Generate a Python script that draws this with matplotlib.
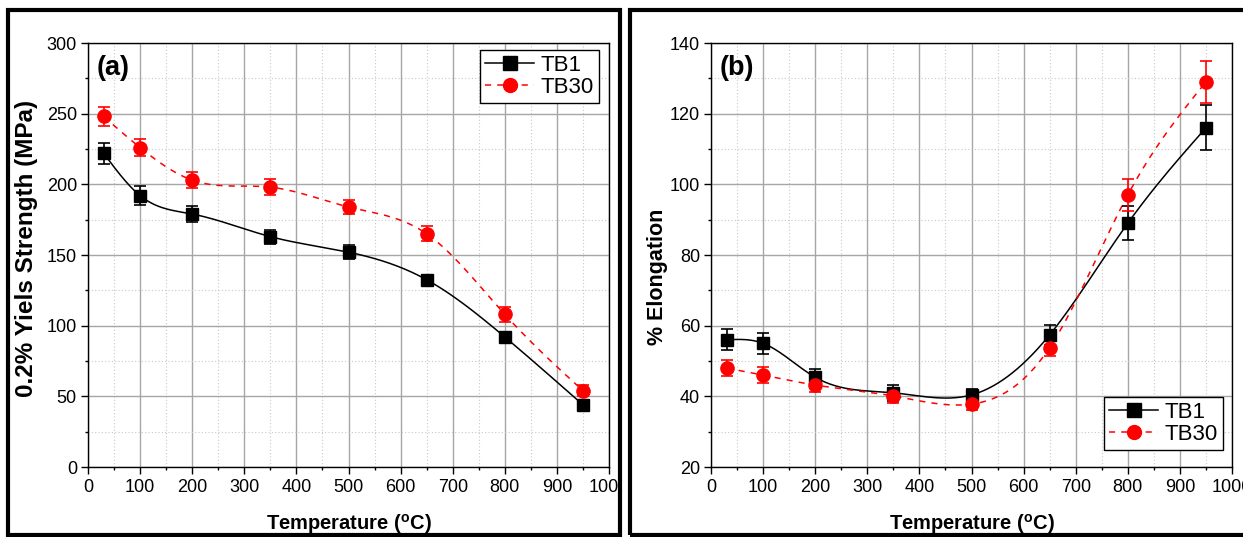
import numpy as np
import matplotlib
matplotlib.use("Agg")
import matplotlib.pyplot as plt
from matplotlib.lines import Line2D
from matplotlib.patches import Rectangle
from matplotlib.ticker import MultipleLocator

plt.rcParams["font.family"] = ["Liberation Sans", "DejaVu Sans"]
plt.rcParams["mathtext.fontset"] = "custom"
plt.rcParams["mathtext.rm"] = "Liberation Sans"
plt.rcParams["mathtext.bf"] = "Liberation Sans:bold"

# Test temperatures (deg C)
temps = [30, 100, 200, 350, 500, 650, 800, 950]

# 0.2% yield strength (MPa) with error bars
ys_tb1 = [222, 192, 179, 163, 152, 132.5, 92, 44]
ys_tb1_err = [7.5, 6.5, 6, 5, 5, 3, 3, 2]
ys_tb30 = [248, 226, 203, 198, 184, 165, 108, 54]
ys_tb30_err = [6.5, 6, 5.5, 5.5, 5, 5.4, 5.5, 4]

# Elongation (%) with error bars
el_tb1 = [56, 55, 45.4, 41, 40.4, 57.4, 89, 116]
el_tb1_err = [3, 3, 2.2, 2.3, 1.8, 2.8, 4.8, 6.4]
el_tb30 = [48, 46, 43.2, 40.1, 37.8, 53.8, 97, 129]
el_tb30_err = [2.3, 2.2, 2, 2, 1.7, 2.4, 4.5, 6]

series_names = ["TB1", "TB30"]
RED = "#ff0000"


def natural_spline(x, y, num=400):
    """Smooth connecting curve through the measured points (natural cubic spline)."""
    x = np.asarray(x, float)
    y = np.asarray(y, float)
    n = len(x)
    h = np.diff(x)
    A = np.zeros((n, n))
    b = np.zeros(n)
    A[0, 0] = A[-1, -1] = 1.0
    for i in range(1, n - 1):
        A[i, i - 1] = h[i - 1]
        A[i, i] = 2 * (h[i - 1] + h[i])
        A[i, i + 1] = h[i]
        b[i] = 6 * ((y[i + 1] - y[i]) / h[i] - (y[i] - y[i - 1]) / h[i - 1])
    M = np.linalg.solve(A, b)
    xs = np.linspace(x[0], x[-1], num)
    idx = np.clip(np.searchsorted(x, xs) - 1, 0, n - 2)
    x0, x1 = x[idx], x[idx + 1]
    y0, y1 = y[idx], y[idx + 1]
    m0, m1 = M[idx], M[idx + 1]
    hh = x1 - x0
    t1 = x1 - xs
    t0 = xs - x0
    ys = (m0 * t1 ** 3 + m1 * t0 ** 3) / (6 * hh) \
        + (y0 / hh - m0 * hh / 6) * t1 + (y1 / hh - m1 * hh / 6) * t0
    return xs, ys


def draw_series(ax, x, y, err, color, marker, ms, dashed):
    xs, ys = natural_spline(x, y)
    if dashed:
        ax.plot(xs, ys, color=color, lw=1.1, dashes=(4, 4), zorder=3)
    else:
        ax.plot(xs, ys, color=color, lw=1.1, zorder=3)
    ax.errorbar(x, y, yerr=err, fmt="none", ecolor=color, elinewidth=1.2,
                capsize=4.4, capthick=1.2, zorder=4)
    ax.plot(x, y, linestyle="none", marker=marker, ms=ms, color=color,
            markeredgecolor=color, zorder=5)


def style_axes(ax, ymin, ymax, ymaj, ymin_step):
    ax.set_xlim(0, 1000)
    ax.set_ylim(ymin, ymax)
    ax.xaxis.set_major_locator(MultipleLocator(100))
    ax.xaxis.set_minor_locator(MultipleLocator(50))
    ax.yaxis.set_major_locator(MultipleLocator(ymaj))
    ax.yaxis.set_minor_locator(MultipleLocator(ymin_step))
    ax.grid(which="major", color="#a6a6a6", lw=1.0, ls="-", zorder=0)
    ax.grid(which="minor", color="#c8c8c8", lw=0.8, ls=(0, (1, 2)), zorder=0)
    ax.set_axisbelow(True)
    ax.tick_params(which="both", direction="out", top=False, right=False,
                   width=1.0, labelsize=13)
    ax.tick_params(which="major", length=5)
    ax.tick_params(which="minor", length=2.5)
    ax.tick_params(axis="x", pad=3.5)
    ax.tick_params(axis="y", pad=3)
    for sp in ax.spines.values():
        sp.set_linewidth(1.0)
        sp.set_color("black")
    ax.set_xlabel(r"Temperature ($\mathbf{^{o}}$C)", fontsize=14.5,
                  fontweight="bold", labelpad=12)


def add_legend(ax, loc, anchor):
    handles = [
        Line2D([], [], color="black", lw=1.1, marker="s", ms=9.5),
        Line2D([], [], color=RED, lw=1.1, dashes=(4, 4), marker="o", ms=10),
    ]
    leg = ax.legend(handles, series_names, loc=loc, bbox_to_anchor=anchor,
                    borderaxespad=0, fontsize=16, handlelength=2.2,
                    handletextpad=0.3, labelspacing=0.05, borderpad=0.22,
                    fancybox=False, framealpha=1, edgecolor="black")
    leg.get_frame().set_linewidth(1.0)
    leg.set_zorder(10)


fig = plt.figure(figsize=(12.43, 5.37), dpi=100)
W, H = 1243, 537

ax1 = fig.add_axes([88 / W, 1 - 467 / H, 521 / W, 424 / H])
ax2 = fig.add_axes([711 / W, 1 - 467 / H, 521 / W, 424 / H])

# (a) yield strength
style_axes(ax1, 0, 300, 50, 25)
draw_series(ax1, temps, ys_tb1, ys_tb1_err, "black", "s", 9, False)
draw_series(ax1, temps, ys_tb30, ys_tb30_err, RED, "o", 9.5, True)
ax1.set_ylabel("0.2% Yiels Strength (MPa)", fontsize=17.5, fontweight="bold",
               va="center")
ax1.yaxis.set_label_coords((27 - 88) / 521, (467 - 248) / 424)
ax1.text(0.016, 0.972, "(a)", transform=ax1.transAxes, fontsize=19.5,
         fontweight="bold", va="top", ha="left")
add_legend(ax1, "upper right", (1 - 10 / 521, 1 - 7 / 424))

# (b) elongation
style_axes(ax2, 20, 140, 20, 10)
draw_series(ax2, temps, el_tb1, el_tb1_err, "black", "s", 9, False)
draw_series(ax2, temps, el_tb30, el_tb30_err, RED, "o", 9.5, True)
ax2.set_ylabel("% Elongation", fontsize=15.5, fontweight="bold", va="center")
ax2.yaxis.set_label_coords((657 - 711) / 521, (467 - 277) / 424)
ax2.text(0.016, 0.972, "(b)", transform=ax2.transAxes, fontsize=19.5,
         fontweight="bold", va="top", ha="left")
add_legend(ax2, "lower right", (1 - 9 / 521, 17 / 424))

# Panel frames with a white gutter between them
fig.patches.append(Rectangle((622 / W, 0), 6 / W, 1, transform=fig.transFigure,
                             facecolor="white", edgecolor="none", zorder=20))
fig.patches.append(Rectangle((8 / W, 2 / H), 612 / W, 525 / H,
                             transform=fig.transFigure, fill=False,
                             edgecolor="black", lw=3, zorder=21))
fig.patches.append(Rectangle((630 / W, 2 / H), 630 / W, 525 / H,
                             transform=fig.transFigure, fill=False,
                             edgecolor="black", lw=3, zorder=21))

fig.savefig("out.png", dpi=100)
